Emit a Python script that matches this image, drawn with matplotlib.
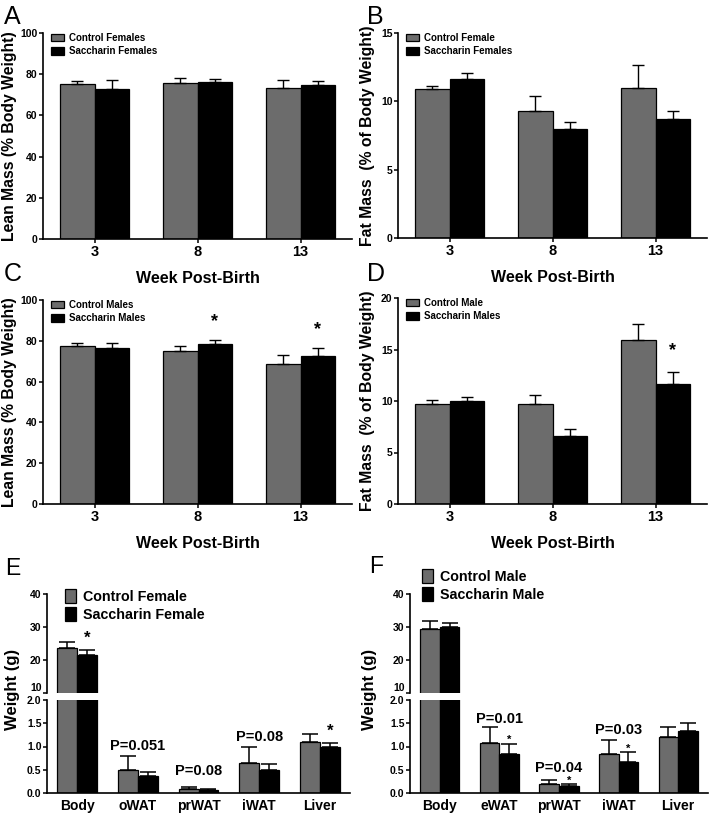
import matplotlib
matplotlib.use('Agg')
import matplotlib.pyplot as plt
from matplotlib.patches import Patch
import numpy as np

plt.rcParams['font.family'] = ['Liberation Sans', 'DejaVu Sans']
plt.rcParams['font.weight'] = 'bold'

# ---------------- data ----------------
weeks = ['3', '8', '13']

lean_f_ctrl = [75.2, 75.6, 73.2]
lean_f_ctrl_err = [1.4, 2.6, 4.1]
lean_f_sacc = [72.7, 76.1, 74.8]
lean_f_sacc_err = [4.3, 1.5, 1.8]

fat_f_ctrl = [10.88, 9.32, 11.0]
fat_f_ctrl_err = [0.24, 1.05, 1.66]
fat_f_sacc = [11.61, 7.98, 8.71]
fat_f_sacc_err = [0.49, 0.51, 0.58]

lean_m_ctrl = [77.4, 75.0, 68.8]
lean_m_ctrl_err = [1.5, 2.4, 4.2]
lean_m_sacc = [76.4, 78.4, 72.7]
lean_m_sacc_err = [2.3, 2.1, 3.6]

fat_m_ctrl = [9.7, 9.7, 15.94]
fat_m_ctrl_err = [0.43, 0.85, 1.5]
fat_m_sacc = [10.03, 6.59, 11.66]
fat_m_sacc_err = [0.39, 0.65, 1.2]

organs_f = ['Body', 'oWAT', 'prWAT', 'iWAT', 'Liver']
wt_f_ctrl = [23.6, 0.50, 0.095, 0.65, 1.09]
wt_f_ctrl_err = [1.9, 0.29, 0.035, 0.35, 0.17]
wt_f_sacc = [21.4, 0.36, 0.066, 0.50, 1.00]
wt_f_sacc_err = [1.7, 0.10, 0.024, 0.12, 0.08]

organs_m = ['Body', 'eWAT', 'prWAT', 'iWAT', 'Liver']
wt_m_ctrl = [29.4, 1.08, 0.19, 0.84, 1.21]
wt_m_ctrl_err = [2.4, 0.34, 0.08, 0.29, 0.22]
wt_m_sacc = [30.0, 0.83, 0.15, 0.66, 1.33]
wt_m_sacc_err = [1.2, 0.23, 0.04, 0.22, 0.17]

stars_C = [1, 2]
stars_D = [2]
stars_E = [0, 4]
stars_F = [1, 2, 3]
p_E = {1: 'P=0.051', 2: 'P=0.08', 3: 'P=0.08'}
p_E_y = {1: 1.0, 2: 0.48, 3: 1.21}
p_F = {1: 'P=0.01', 2: 'P=0.04', 3: 'P=0.03'}
p_F_y = {1: 1.59, 2: 0.53, 3: 1.35}

GRAY = '#6c6c6c'
W, H = 714, 817
fig = plt.figure(figsize=(W / 100, H / 100), dpi=100)


def ax_px(l, t, r, b):
    return fig.add_axes([l / W, 1 - b / H, (r - l) / W, (b - t) / H])


def letter(x, y, s, fs=18):
    fig.text(x / W, 1 - y / H, s, fontsize=fs, fontweight='normal', va='top', ha='left')


def style(ax, ylab_fs=7.5):
    for s in ['top', 'right']:
        ax.spines[s].set_visible(False)
    for s in ['left', 'bottom']:
        ax.spines[s].set_linewidth(1.2)
    ax.tick_params(axis='both', direction='out', length=3, width=1.1, pad=1)
    ax.tick_params(axis='y', labelsize=ylab_fs)


def bars(ax, c, ce, s, se, w, cap, elw=1.0):
    x = np.arange(len(c))
    z = np.zeros(len(c))
    ax.bar(x - w / 2, c, w, color=GRAY, edgecolor='black', linewidth=0.9,
           yerr=[z, ce], capsize=cap, error_kw=dict(elinewidth=elw, capthick=elw, ecolor='black'))
    ax.bar(x + w / 2, s, w, color='black', edgecolor='black', linewidth=0.9,
           yerr=[z, se], capsize=cap, error_kw=dict(elinewidth=elw, capthick=elw, ecolor='black'))
    return x


def legend(ax, labels, fs, anchor, hl, hh, ls):
    handles = [Patch(facecolor=GRAY, edgecolor='black', linewidth=0.9),
               Patch(facecolor='black', edgecolor='black', linewidth=0.9)]
    ax.legend(handles, labels, loc='upper left', bbox_to_anchor=anchor, frameon=False,
              prop=dict(size=fs, weight='bold'), handlelength=hl, handleheight=hh,
              handletextpad=0.5, labelspacing=ls, borderaxespad=0, borderpad=0)


def week_panel(l, t, r, b, c, ce, s, se, ylim, yticks, ylabel, labels, stars, star_off, ylab_right):
    ax = ax_px(l, t, r, b)
    x = bars(ax, c, ce, s, se, 0.335, 4)
    ax.set_xlim(-0.5, 2.5)
    ax.set_ylim(*ylim)
    ax.set_yticks(yticks)
    ax.set_xticks(x)
    ax.set_xticklabels(weeks, fontsize=10.5)
    ax.tick_params(axis='x', pad=5)
    style(ax)
    ax.set_ylabel(ylabel, fontsize=11.3, fontweight='bold')
    ax.yaxis.set_label_coords(-(l - ylab_right) / (r - l), 0.5)
    ax.set_xlabel('Week Post-Birth', fontsize=11.5, fontweight='bold')
    ax.xaxis.set_label_coords(0.5, -32 / (b - t))
    legend(ax, labels, 7, (0.025, 1.0), 1.4, 0.8, 0.35)
    for i in stars:
        ax.annotate('*', (x[i] + 0.335 / 2, s[i] + se[i]), xytext=(0, star_off),
                    textcoords='offset points', ha='center', va='baseline', fontsize=13)
    return ax


week_panel(43, 33, 352, 239, lean_f_ctrl, lean_f_ctrl_err, lean_f_sacc, lean_f_sacc_err,
           (0, 100), [0, 20, 40, 60, 80, 100], 'Lean Mass (% Body Weight)',
           ['Control Females', 'Saccharin Females'], [], 0, 17)
week_panel(398, 33, 707, 238, fat_f_ctrl, fat_f_ctrl_err, fat_f_sacc, fat_f_sacc_err,
           (0, 15), [0, 5, 10, 15], 'Fat Mass  (% of Body Weight)',
           ['Control Female', 'Saccharin Females'], [], 0, 375)
week_panel(43, 300, 352, 504, lean_m_ctrl, lean_m_ctrl_err, lean_m_sacc, lean_m_sacc_err,
           (0, 100), [0, 20, 40, 60, 80, 100], 'Lean Mass (% Body Weight)',
           ['Control Males', 'Saccharin Males'], stars_C, 10, 17)
week_panel(398, 298, 707, 504, fat_m_ctrl, fat_m_ctrl_err, fat_m_sacc, fat_m_sacc_err,
           (0, 20), [0, 5, 10, 15, 20], 'Fat Mass  (% of Body Weight)',
           ['Control Male', 'Saccharin Males'], stars_D, 12, 375)

letter(4, 5, 'A')
letter(367, 5, 'B')
letter(4, 262, 'C')
letter(367, 262, 'D')


def organ_panel(l, r, organs, c, ce, s, se, labels, stars, star_fs, star_off,
                ptxt, py, leg_anchor, ylab_x):
    up = ax_px(l, 594, r, 693)
    lo = ax_px(l, 700, r, 793)
    w = 0.33
    for ax in (up, lo):
        x = bars(ax, c, ce, s, se, w, 5.5, 1.1)
        ax.set_xlim(-0.5, 4.5)
        style(ax)
    up.set_ylim(10, 40)
    up.set_yticks([10, 20, 30, 40])
    up.spines['bottom'].set_visible(False)
    up.set_xticks([])
    lo.set_ylim(0, 2.0)
    lo.set_yticks([0, 0.5, 1.0, 1.5, 2.0])
    lo.set_yticklabels(['0.0', '0.5', '1.0', '1.5', '2.0'])
    lo.set_xticks(x)
    lo.set_xticklabels(organs, fontsize=10)
    lo.tick_params(axis='x', length=0, pad=4)
    fig.canvas.draw()
    # the labels at the axis break sit just apart, as in the original
    up.get_yticklabels()[0].set_va('bottom')
    fig.text(ylab_x / W, 1 - 689 / H, 'Weight (g)', rotation=90,
             fontsize=12, fontweight='bold', ha='center', va='center')
    legend(up, labels, 10.3, leg_anchor, 0.75, 1.15, 0.2)
    for i in stars:
        ax = up if s[i] > 5 else lo
        ax.annotate('*', (x[i] + w / 2, s[i] + se[i]), xytext=(0, star_off),
                    textcoords='offset points', ha='center', va='baseline',
                    fontsize=star_fs)
    for i, t in ptxt.items():
        lo.text(x[i], py[i], t, ha='center', va='center', fontsize=10.5)


organ_panel(47, 350, organs_f, wt_f_ctrl, wt_f_ctrl_err, wt_f_sacc, wt_f_sacc_err,
            ['Control Female', 'Saccharin Female'], stars_E, 12, 5,
            p_E, p_E_y, (0.06, 1.05), 13)
organ_panel(410, 708, organs_m, wt_m_ctrl, wt_m_ctrl_err, wt_m_sacc, wt_m_sacc_err,
            ['Control Male', 'Saccharin Male'], stars_F, 8, 0.5,
            p_F, p_F_y, (0.04, 1.25), 369)

letter(5, 557, 'E', 16.5)
letter(369, 555, 'F', 16.5)

fig.savefig('out.png', dpi=100)
